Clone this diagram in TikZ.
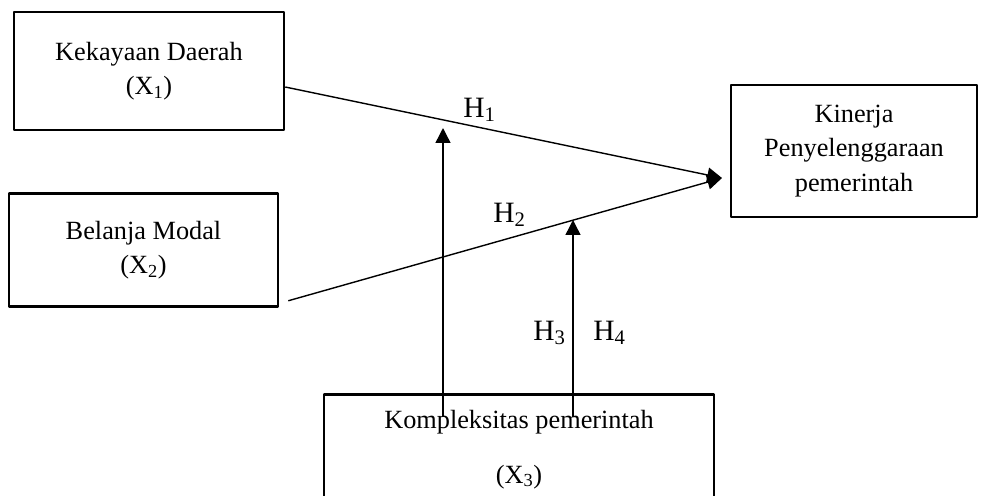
\documentclass[tikz,border=0pt]{standalone}
\usepackage{fontspec}
\setmainfont{Liberation Serif}
\usetikzlibrary{arrows.meta,calc}
\tikzset{
  box/.style={draw,line width=1.8pt,align=center,inner sep=0pt,
    font=\fontsize{18.7}{24.5}\selectfont},
  hlabel/.style={anchor=base west,inner sep=0pt,font=\fontsize{21}{24}\selectfont},
}
\begin{document}
\begin{tikzpicture}[x=0.025cm,y=-0.025cm,line join=round,>={Triangle[length=10.5pt,width=10.5pt]}]
  \def\px{0.025cm}
  \useasboundingbox (0,0) rectangle (987,495);
  % variabel
  \node[box,minimum width=270*\px,minimum height=118*\px] (kd) at (149,71)
    {Kekayaan Daerah\\(X\textsubscript{1})};
  \node[box,minimum width=269*\px,minimum height=113*\px] (bm) at (143.5,250)
    {Belanja Modal\\(X\textsubscript{2})};
  \node[box,minimum width=246*\px,minimum height=132*\px] (kp) at (854,151)
    {Kinerja\\Penyelenggaraan\\pemerintah};
  \node[box,minimum width=390*\px,minimum height=140*\px,anchor=north] (ks) at (519,393) {};
  \node[font=\fontsize{18.7}{24}\selectfont,anchor=base] (kst) at (519,428) {Kompleksitas pemerintah};
  \node[font=\fontsize{18.7}{24}\selectfont,anchor=base] (ksx) at (519,483) {(X\textsubscript{3})};
  \path
  (722,178) coordinate (T)
  (443,128) coordinate (M1)
  (573,220) coordinate (M2)
  ;
  % hubungan
  \draw[->,line width=1pt] ($(kd.east)+(0,16)$) -- (T);
  \draw[->,line width=1pt] ($(bm.south east)+(9,-7)$) -- (T);
  \draw[->,line width=1pt] ($(ks.north)+(-76,24)$) -- (M1);
  \draw[->,line width=1pt] ($(ks.north)+(54,24)$) -- (M2);
  \foreach \n/\x/\y in {1/463/117,2/493/222,3/533/340,4/593/340}
    \node[hlabel] (h\n) at (\x,\y) {H\textsubscript{\n}};
\end{tikzpicture}
\end{document}
